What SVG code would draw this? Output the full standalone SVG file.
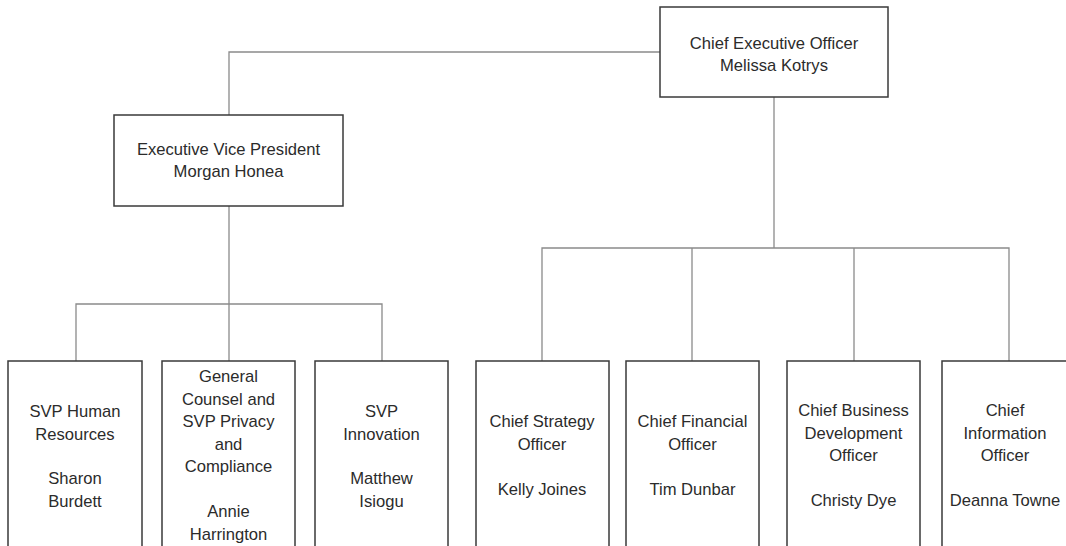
<svg xmlns="http://www.w3.org/2000/svg" width="1066" height="546" viewBox="0 0 1066 546">
<style>
.box{fill:#ffffff;stroke:#3a3a3a;stroke-width:1.5}
.con{fill:none;stroke:#8a8a8a;stroke-width:1.3}
text{font-family:"Liberation Sans",Arial,sans-serif;font-size:16.6px;fill:#2b2b2b;text-anchor:middle}
</style>
<rect width="1066" height="546" fill="#ffffff"/>
<g id="connectors">
<path class="con" d="M660,52 H229 V115"/>
<path class="con" d="M774,97 V248"/>
<path class="con" d="M542,361 V248 H1009 V361"/>
<path class="con" d="M692,248 V361"/>
<path class="con" d="M854,248 V361"/>
<path class="con" d="M229,206 V361"/>
<path class="con" d="M76,361 V304 H382 V361"/>
</g>
<g id="ceo">
<rect class="box" x="660" y="7" width="228" height="90"/>
<text x="774" y="49">Chief Executive Officer</text>
<text x="774" y="71">Melissa Kotrys</text>
</g>
<g id="evp">
<rect class="box" x="114" y="115" width="229" height="91"/>
<text x="228.5" y="155">Executive Vice President</text>
<text x="228.5" y="177">Morgan Honea</text>
</g>
<g id="svp-hr">
<rect class="box" x="8" y="361" width="134" height="200"/>
<text x="75" y="417">SVP Human</text>
<text x="75" y="439.5">Resources</text>
<text x="75" y="484">Sharon</text>
<text x="75" y="506.5">Burdett</text>
</g>
<g id="general-counsel">
<rect class="box" x="162" y="361" width="133" height="200"/>
<text x="228.5" y="382">General</text>
<text x="228.5" y="404.5">Counsel and</text>
<text x="228.5" y="427">SVP Privacy</text>
<text x="228.5" y="449.5">and</text>
<text x="228.5" y="472">Compliance</text>
<text x="228.5" y="517">Annie</text>
<text x="228.5" y="539.5">Harrington</text>
</g>
<g id="svp-innovation">
<rect class="box" x="315" y="361" width="133" height="200"/>
<text x="381.5" y="417">SVP</text>
<text x="381.5" y="439.5">Innovation</text>
<text x="381.5" y="484">Matthew</text>
<text x="381.5" y="506.5">Isiogu</text>
</g>
<g id="cso">
<rect class="box" x="476" y="361" width="133" height="200"/>
<text x="542" y="427">Chief Strategy</text>
<text x="542" y="449.5">Officer</text>
<text x="542" y="494.5">Kelly Joines</text>
</g>
<g id="cfo">
<rect class="box" x="626" y="361" width="133" height="200"/>
<text x="692.5" y="427">Chief Financial</text>
<text x="692.5" y="449.5">Officer</text>
<text x="692.5" y="494.5">Tim Dunbar</text>
</g>
<g id="cbdo">
<rect class="box" x="787" y="361" width="133" height="200"/>
<text x="853.5" y="416">Chief Business</text>
<text x="853.5" y="438.5">Development</text>
<text x="853.5" y="461">Officer</text>
<text x="853.5" y="506">Christy Dye</text>
</g>
<g id="cio">
<rect class="box" x="942" y="361" width="134" height="200"/>
<text x="1005" y="416">Chief</text>
<text x="1005" y="438.5">Information</text>
<text x="1005" y="461">Officer</text>
<text x="1005" y="506">Deanna Towne</text>
</g>
</svg>
